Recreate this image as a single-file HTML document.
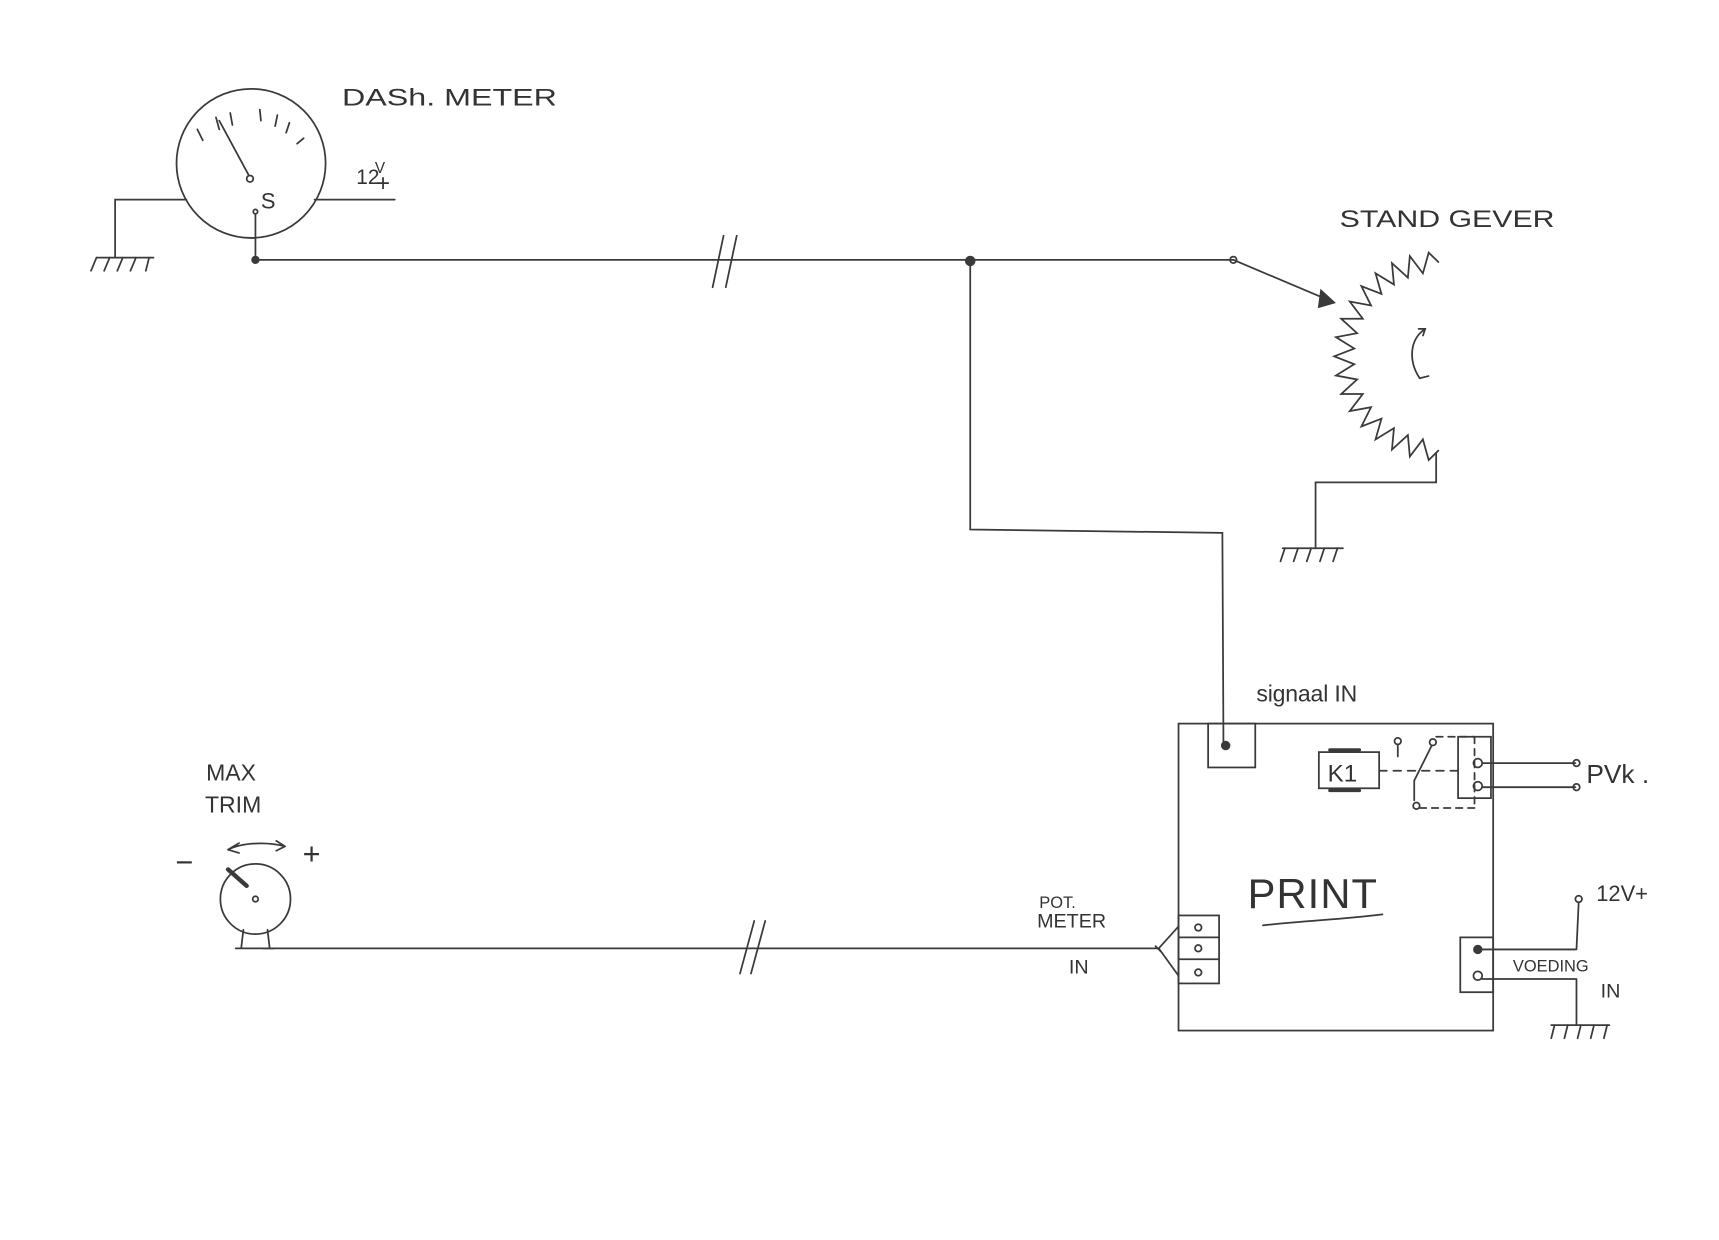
<!DOCTYPE html>
<html><head><style>
html,body{margin:0;padding:0;background:#fff;}
svg{display:block;}
text{font-family:"Liberation Sans",sans-serif;fill:#333;}
</style></head><body>
<svg width="1719" height="1240" viewBox="0 0 1568 1131" xmlns="http://www.w3.org/2000/svg">
<rect width="1568" height="1131" fill="#fff"/>
<g stroke="#3a3a3a" stroke-width="1.6" fill="none" stroke-linecap="round">
<circle cx="229" cy="149" r="68"/>
<line x1="200" y1="110" x2="227" y2="160"/>
<circle cx="228" cy="163" r="3"/>
<line x1="180" y1="118" x2="185" y2="128"/><line x1="197" y1="107" x2="200" y2="118"/><line x1="210" y1="103" x2="212" y2="114"/><line x1="237" y1="100" x2="238" y2="110"/><line x1="253" y1="105" x2="251" y2="115"/><line x1="264" y1="112" x2="261" y2="121"/><line x1="277" y1="126" x2="271" y2="131"/>
<circle cx="233" cy="193" r="2"/>
<line x1="233" y1="195" x2="233" y2="237"/>
<circle cx="233" cy="237" r="3" fill="#3a3a3a"/>
<polyline points="170,182 105,182 105,235"/>
<line x1="88" y1="235" x2="140" y2="235"/>
<path d="M88 235 l-5 12 M100 235 l-5 12 M112 235 l-5 12 M124 235 l-5 12 M136 235 l-3 12"/>
<line x1="287" y1="182" x2="360" y2="182"/>
<line x1="233" y1="237" x2="1125" y2="237"/>
<line x1="660" y1="215" x2="650" y2="262"/><line x1="672" y1="215" x2="662" y2="262"/>
<circle cx="885" cy="238" r="4" fill="#3a3a3a"/>
<circle cx="1125" cy="237" r="3"/>
<line x1="1125" y1="237" x2="1215" y2="275"/>
<path d="M1205 265 L1217 276 L1203 280 Z" fill="#3a3a3a"/>
<path id="zz" d=""/>
<path d="M1300 300 C1285 310,1285 330,1295 345 M1294 300 l6 0 l-2 6 M1295 345 l8 -2"/>
<polyline points="1310,413 1310,440 1200,440 1200,500"/>
<line x1="1170" y1="500" x2="1225" y2="500"/>
<path d="M1172 500 l-4 12 M1184 500 l-4 12 M1196 500 l-4 12 M1208 500 l-4 12 M1220 500 l-4 12"/>
<polyline points="885,238 885,483 1115,486 1116,680"/>
<rect x="1075" y="660" width="287" height="280"/>
<rect x="1102" y="660" width="43" height="40"/>
<circle cx="1118" cy="680" r="3.5" fill="#3a3a3a"/>
<rect x="1203" y="686" width="55" height="33"/>
<line x1="1213" y1="684" x2="1240" y2="684" stroke-width="3"/><line x1="1213" y1="721" x2="1240" y2="721" stroke-width="3"/>
<line x1="1258" y1="703" x2="1332" y2="703" stroke-dasharray="7,6"/>
<circle cx="1275" cy="676" r="3"/><line x1="1275" y1="679" x2="1275" y2="690"/>
<circle cx="1307" cy="677" r="3"/><line x1="1306" y1="680" x2="1290" y2="712"/><line x1="1290" y1="712" x2="1290" y2="730"/><circle cx="1292" cy="735" r="3"/>
<path d="M1310 672 H1345 M1295 737 H1345 M1345 672 V737" stroke-dasharray="6,5"/>
<rect x="1330" y="672" width="30" height="56"/>
<circle cx="1348" cy="696" r="4"/><circle cx="1348" cy="717" r="4"/>
<line x1="1352" y1="696" x2="1437" y2="696"/><line x1="1352" y1="718" x2="1437" y2="718"/>
<circle cx="1438" cy="696" r="3"/><circle cx="1438" cy="718" r="3"/>
<rect x="1332" y="855" width="30" height="50"/>
<circle cx="1348" cy="866" r="3.5" fill="#3a3a3a"/><circle cx="1348" cy="890" r="4"/>
<line x1="1352" y1="866" x2="1437" y2="866"/><line x1="1352" y1="893" x2="1437" y2="893"/>
<circle cx="1440" cy="820" r="3"/><line x1="1440" y1="823" x2="1438" y2="866"/>
<line x1="1438" y1="893" x2="1438" y2="935"/>
<line x1="1415" y1="935" x2="1468" y2="935"/>
<path d="M1418 935 l-3 12 M1430 935 l-3 12 M1442 935 l-3 12 M1454 935 l-3 12 M1466 935 l-3 12"/>
<path d="M1152 844 C1190 840,1230 838,1261 834"/>
<rect x="1075" y="835" width="37" height="62"/>
<line x1="1075" y1="855" x2="1112" y2="855"/><line x1="1075" y1="875" x2="1112" y2="875"/>
<circle cx="1093" cy="846" r="3"/><circle cx="1093" cy="865" r="3"/><circle cx="1093" cy="887" r="3"/>
<path d="M1057 865 L1075 845 M1057 865 L1075 890 M1054 863 l6 6"/>
<line x1="240" y1="865" x2="1057" y2="865"/>
<line x1="688" y1="840" x2="675" y2="888"/><line x1="698" y1="840" x2="685" y2="888"/>
<circle cx="233" cy="820" r="32"/>
<circle cx="233" cy="820" r="2.5"/>
<path d="M222 848 L220 865 M244 848 L246 865 M215 865 H250"/>
<line x1="208" y1="793" x2="225" y2="808" stroke-width="4"/>
<path d="M208 775 C222 768,245 768,260 772 M208 775 l10 -6 M208 775 l10 3 M260 772 l-8 -5 M260 772 l-8 4"/>
</g>
<g font-size="20">
<text x="312" y="96" textLength="196" lengthAdjust="spacingAndGlyphs" font-size="22">DASh. METER</text>
<text x="238" y="190" font-size="20">S</text>
<text x="325" y="168" font-size="19">12</text><text x="342" y="158" font-size="14">V</text><text x="343" y="174" font-size="22">+</text>
<text x="1222" y="207" textLength="196" lengthAdjust="spacingAndGlyphs" font-size="22">STAND GEVER</text>
<text x="1146" y="640" font-size="21" textLength="92">signaal IN</text>
<text x="1211" y="713" font-size="22">K1</text>
<text x="1447" y="714" font-size="24">PVk .</text>
<text x="1456" y="822" font-size="20">12V+</text>
<text x="1380" y="886" font-size="15">VOEDING</text>
<text x="1460" y="910" font-size="18">IN</text>
<text x="1138" y="828" font-size="38" textLength="118">PRINT</text>
<text x="948" y="828" font-size="15">POT.</text>
<text x="946" y="846" font-size="18">METER</text>
<text x="975" y="888" font-size="18">IN</text>
<text x="188" y="712" font-size="21">MAX</text>
<text x="187" y="741" font-size="21">TRIM</text>
<text x="160" y="796" font-size="28">−</text>
<text x="276" y="788" font-size="28">+</text>
</g>
</svg>
<script>
(function(){var cx=1312,cy=325,r=86,n=34,d="";
for(var i=0;i<=n;i++){var a=(-90-180*i/n)*Math.PI/180;var rr=r+(i===0||i===n?0:(i%2?9:-9));
var x=cx+rr*Math.cos(a),y=cy-rr*Math.sin(a);d+=(i?"L":"M")+x.toFixed(1)+" "+y.toFixed(1)+" ";}
// orient from top to bottom: angle 90 -> 270
d="";for(var i=0;i<=n;i++){var a=(90+180*i/n)*Math.PI/180;var rr=r+(i===0||i===n?0:(i%2?9:-9));
var x=cx+rr*Math.cos(a),y=cy-rr*Math.sin(a);d+=(i?"L":"M")+x.toFixed(1)+" "+y.toFixed(1)+" ";}
document.getElementById("zz").setAttribute("d",d);})();
</script>
</body></html>
